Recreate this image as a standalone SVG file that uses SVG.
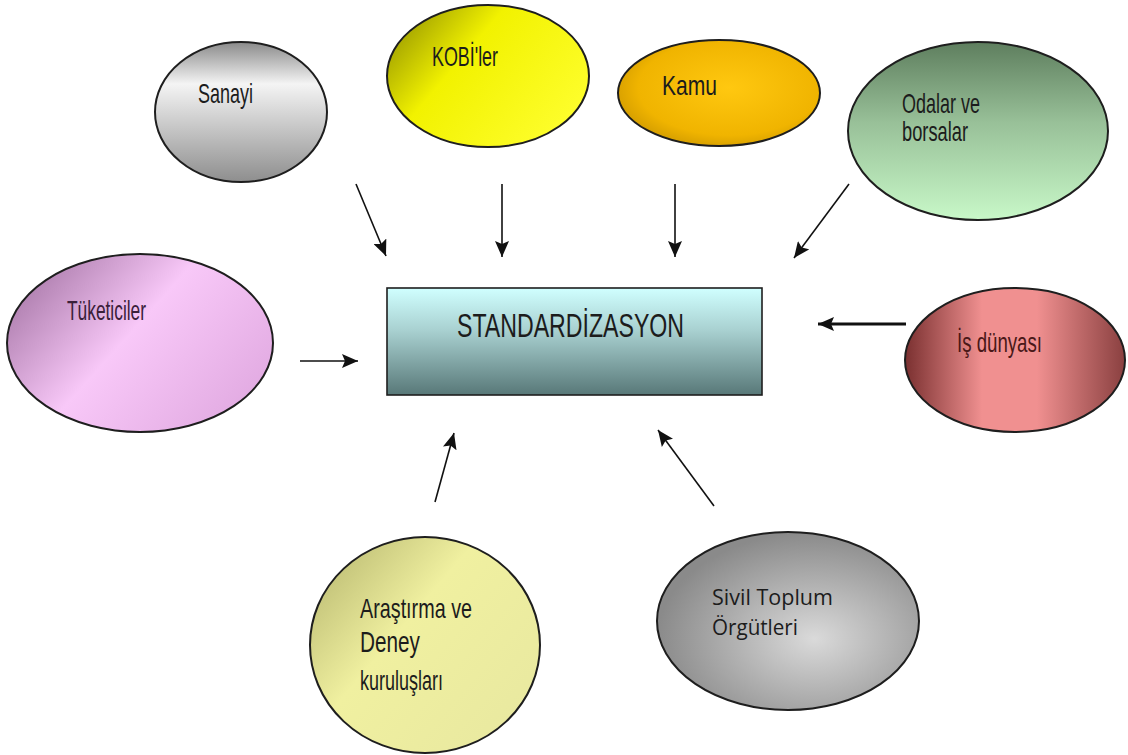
<svg xmlns="http://www.w3.org/2000/svg" width="1128" height="755" viewBox="0 0 1128 755">
<defs>
<style>
.node{stroke:#1e1e1e;stroke-width:2}
.lbl{font-family:"Liberation Sans",Arial,sans-serif;font-size:28px;fill:#1c1c1c}
.lbl2{font-family:"Open Sans","DejaVu Sans",sans-serif;font-size:22px;fill:#1c1c1c}
.con{stroke:#111;stroke-width:1.6;fill:none}
.conb{stroke:#111;stroke-width:3.2;fill:none}
</style>
<marker id="ah" markerUnits="userSpaceOnUse" markerWidth="16" markerHeight="14" viewBox="0 0 16 14" refX="16" refY="7" orient="auto">
<path d="M0,0 L16,7 L0,14 L3,7 Z" fill="#111"/>
</marker>
<linearGradient id="gSanayi" x1="0" y1="0" x2="0" y2="1">
<stop offset="0" stop-color="#8a8a8a"/><stop offset="0.3" stop-color="#f4f4f4"/><stop offset="1" stop-color="#8e8e8e"/>
</linearGradient>
<linearGradient id="gKobi" x1="0" y1="0.2" x2="1" y2="0.8">
<stop offset="0" stop-color="#9a9a00"/><stop offset="0.35" stop-color="#f2f200"/><stop offset="1" stop-color="#ffff30"/>
</linearGradient>
<radialGradient id="gKamu" cx="0.55" cy="0.45" r="0.6">
<stop offset="0" stop-color="#ffc810"/><stop offset="0.75" stop-color="#f0b400"/><stop offset="1" stop-color="#d09a00"/>
</radialGradient>
<linearGradient id="gOdalar" x1="0" y1="0" x2="0" y2="1">
<stop offset="0" stop-color="#5e7e5e"/><stop offset="0.45" stop-color="#98c098"/><stop offset="1" stop-color="#c8f8c8"/>
</linearGradient>
<linearGradient id="gTuk" x1="0" y1="0.2" x2="1" y2="0.8">
<stop offset="0" stop-color="#a878a8"/><stop offset="0.45" stop-color="#f8c8f8"/><stop offset="1" stop-color="#e0a8e0"/>
</linearGradient>
<linearGradient id="gIs" x1="0" y1="0" x2="1" y2="0">
<stop offset="0" stop-color="#7a3030"/><stop offset="0.35" stop-color="#f09090"/><stop offset="0.6" stop-color="#f09090"/><stop offset="1" stop-color="#8a4040"/>
</linearGradient>
<linearGradient id="gAra" x1="0" y1="0.1" x2="1" y2="0.9">
<stop offset="0" stop-color="#b8b870"/><stop offset="0.4" stop-color="#f0f0a0"/><stop offset="1" stop-color="#e8e8a0"/>
</linearGradient>
<radialGradient id="gSivil" cx="0.6" cy="0.6" r="0.6">
<stop offset="0" stop-color="#dadada"/><stop offset="1" stop-color="#8a8a8a"/>
</radialGradient>
<linearGradient id="gStd" x1="0" y1="0" x2="0" y2="1">
<stop offset="0" stop-color="#d0ffff"/><stop offset="0.4" stop-color="#a8d0d0"/><stop offset="1" stop-color="#587878"/>
</linearGradient>
</defs>
<rect width="1128" height="755" fill="#ffffff"/>

<g id="connectors">
<line class="con" x1="356" y1="184" x2="386" y2="256" marker-end="url(#ah)"/>
<line class="con" x1="502" y1="184" x2="502" y2="257" marker-end="url(#ah)"/>
<line class="con" x1="675" y1="184" x2="675" y2="257" marker-end="url(#ah)"/>
<line class="con" x1="849" y1="184" x2="794" y2="258" marker-end="url(#ah)"/>
<line class="con" x1="300" y1="361" x2="358" y2="361" marker-end="url(#ah)"/>
<line class="conb" x1="906" y1="324" x2="818" y2="324" marker-end="url(#ah)"/>
<line class="con" x1="435" y1="502" x2="454" y2="433" marker-end="url(#ah)"/>
<line class="con" x1="714" y1="506" x2="658" y2="430" marker-end="url(#ah)"/>
</g>

<g id="standardizasyon">
<rect x="387" y="288" width="375" height="107" fill="url(#gStd)" stroke="#1e1e1e" stroke-width="1.6"/>
<text class="lbl" x="457" y="337" textLength="227" lengthAdjust="spacingAndGlyphs" style="font-size:33px">STANDARDİZASYON</text>
</g>

<g id="sanayi">
<ellipse class="node" cx="241" cy="112" rx="86" ry="70" fill="url(#gSanayi)"/>
<text class="lbl" x="198" y="103" textLength="55" lengthAdjust="spacingAndGlyphs">Sanayi</text>
</g>

<g id="kobiler">
<ellipse class="node" cx="488" cy="76" rx="101" ry="71" fill="url(#gKobi)"/>
<text class="lbl" x="432" y="66" textLength="66" lengthAdjust="spacingAndGlyphs">KOBİ'ler</text>
</g>

<g id="kamu">
<ellipse class="node" cx="719" cy="93" rx="101" ry="53" fill="url(#gKamu)"/>
<text class="lbl" x="662" y="95" textLength="55" lengthAdjust="spacingAndGlyphs">Kamu</text>
</g>

<g id="odalar">
<ellipse class="node" cx="978" cy="131" rx="130" ry="89" fill="url(#gOdalar)"/>
<text class="lbl" x="902" y="113" textLength="78" lengthAdjust="spacingAndGlyphs">Odalar ve</text>
<text class="lbl" x="902" y="141" textLength="66" lengthAdjust="spacingAndGlyphs">borsalar</text>
</g>

<g id="tuketiciler">
<ellipse class="node" cx="140" cy="343" rx="133" ry="89" fill="url(#gTuk)" stroke="#2a1a2a"/>
<text class="lbl" x="67" y="320" textLength="79" lengthAdjust="spacingAndGlyphs" style="fill:#3a203a">Tüketiciler</text>
</g>

<g id="isdunyasi">
<ellipse class="node" cx="1015" cy="360" rx="110" ry="72" fill="url(#gIs)" stroke="#2a1010"/>
<text class="lbl" x="957" y="352" textLength="85" lengthAdjust="spacingAndGlyphs" style="fill:#4a1818">İş dünyası</text>
</g>

<g id="arastirma">
<ellipse class="node" cx="425" cy="645" rx="115" ry="108" fill="url(#gAra)"/>
<text class="lbl" x="360" y="618" textLength="112" lengthAdjust="spacingAndGlyphs">Araştırma ve</text>
<text class="lbl" x="360" y="652" textLength="60" lengthAdjust="spacingAndGlyphs" style="font-size:30px">Deney</text>
<text class="lbl" x="360" y="690" textLength="83" lengthAdjust="spacingAndGlyphs">kuruluşları</text>
</g>

<g id="sivil">
<ellipse class="node" cx="788" cy="621" rx="131" ry="89" fill="url(#gSivil)"/>
<text class="lbl2" x="712" y="605" textLength="121" lengthAdjust="spacingAndGlyphs">Sivil Toplum</text>
<text class="lbl2" x="712" y="635" textLength="86" lengthAdjust="spacingAndGlyphs">Örgütleri</text>
</g>
</svg>
